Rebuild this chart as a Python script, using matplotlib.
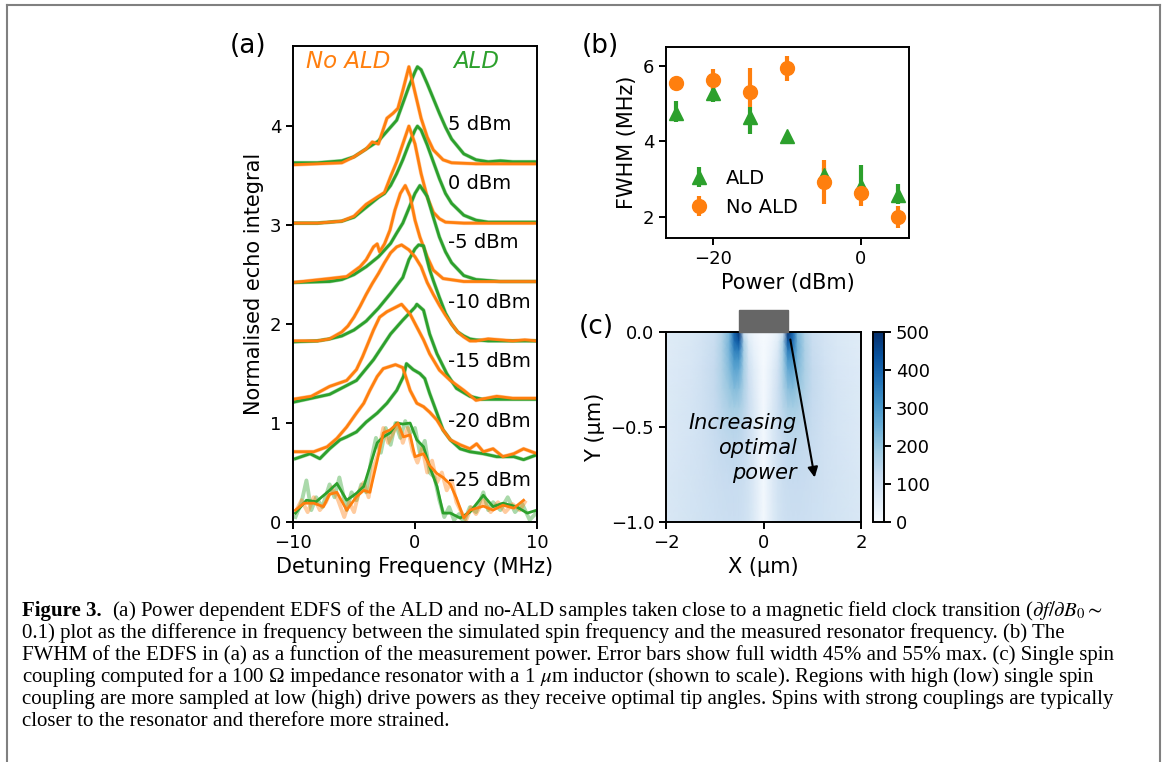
import matplotlib.pyplot as plt
import numpy as np
from matplotlib.lines import Line2D
from matplotlib.patches import Rectangle

plt.rcParams['mathtext.fontset'] = 'stix'
plt.rcParams['axes.linewidth'] = 1.4
plt.rcParams['xtick.major.width'] = 1.4
plt.rcParams['ytick.major.width'] = 1.4
plt.rcParams['xtick.major.size'] = 5
plt.rcParams['ytick.major.size'] = 5
plt.rcParams['xtick.labelsize'] = 13
plt.rcParams['ytick.labelsize'] = 13

orange = '#ff7f0e'
green = '#2ca02c'

# ---- (a) EDFS curves, normalised (peak = 1), one pair of lists per power ----
powers = [5, 0, -5, -10, -15, -20, -25]

x_ald_p5 = [-10, -8, -6, -5, -4, -3, -2, -1.5, -1, -0.5, 0, 0.2, 0.5, 1, 1.5, 2, 2.5, 3, 4, 5, 6, 7, 8, 9, 10]
y_ald_p5 = [0.03, 0.03, 0.05, 0.09, 0.17, 0.25, 0.39, 0.46, 0.63, 0.80, 0.95, 1.0, 0.97, 0.83, 0.68, 0.53, 0.39, 0.27, 0.12, 0.06, 0.04, 0.05, 0.04, 0.04, 0.04]
x_no_p5 = [-10, -8, -6, -5, -4, -3.5, -3, -2.3, -1.8, -1.4, -1, -0.5, 0, 0.5, 1, 1.5, 2.3, 3, 5, 7, 10]
y_no_p5 = [0.01, 0.02, 0.03, 0.09, 0.17, 0.24, 0.22, 0.48, 0.53, 0.58, 0.76, 1.0, 0.74, 0.48, 0.29, 0.16, 0.06, 0.03, 0.02, 0.02, 0.02]

x_ald_0 = [-10, -8, -6, -5, -4, -3, -2.5, -2, -1.5, -1, -0.5, 0, 0.2, 0.5, 1, 1.5, 2, 2.5, 3, 4, 5, 6, 8, 10]
y_ald_0 = [0.02, 0.02, 0.04, 0.08, 0.18, 0.28, 0.32, 0.40, 0.52, 0.66, 0.82, 0.96, 1.0, 0.96, 0.81, 0.64, 0.47, 0.32, 0.22, 0.10, 0.05, 0.03, 0.03, 0.03]
x_no_0 = [-10, -8, -6, -5, -4, -3, -2.5, -2, -1.5, -1, -0.5, 0, 0.5, 1, 1.5, 2, 2.5, 4, 6, 8, 10]
y_no_0 = [0.02, 0.02, 0.04, 0.09, 0.21, 0.29, 0.33, 0.49, 0.64, 0.82, 1.0, 0.82, 0.52, 0.285, 0.13, 0.065, 0.03, 0.02, 0.02, 0.02, 0.02]

x_ald_m5 = [-10, -7, -6, -5, -4, -3, -2, -1.5, -1, -0.5, 0, 0.4, 1, 1.5, 2, 2.5, 3, 4, 5, 7, 10]
y_ald_m5 = [0.02, 0.03, 0.05, 0.10, 0.18, 0.28, 0.415, 0.52, 0.62, 0.77, 0.92, 1.0, 0.89, 0.68, 0.48, 0.33, 0.22, 0.09, 0.05, 0.03, 0.03]
x_no_m5 = [-10, -7, -5.6, -4.5, -4, -3.4, -3.1, -2.9, -2.5, -2.05, -1.65, -1.2, -0.8, -0.4, 0, 0.4, 1, 1.5, 2.3, 4, 6, 10]
y_no_m5 = [0.02, 0.06, 0.08, 0.18, 0.25, 0.38, 0.41, 0.33, 0.41, 0.55, 0.75, 0.92, 1.0, 0.89, 0.65, 0.48, 0.28, 0.145, 0.06, 0.03, 0.03, 0.03]

x_ald_m10 = [-10, -8, -7, -6, -5, -4, -3, -2, -1, -0.5, 0, 0.3, 0.7, 1.2, 1.5, 2, 2.5, 3, 3.5, 4, 4.5, 5, 6, 8, 10]
y_ald_m10 = [0.02, 0.03, 0.05, 0.08, 0.14, 0.23, 0.36, 0.51, 0.67, 0.85, 0.96, 1.0, 0.99, 0.75, 0.64, 0.47, 0.31, 0.2, 0.12, 0.08, 0.05, 0.04, 0.03, 0.03, 0.03]
x_no_m10 = [-10, -8, -7, -6, -5.5, -5, -4.5, -4, -3.5, -3, -2.5, -2, -1.5, -1.1, -0.5, 0, 0.5, 1, 1.5, 2, 2.5, 3, 3.5, 4, 4.5, 5, 6, 7, 8, 9, 10]
y_no_m10 = [0.03, 0.03, 0.05, 0.12, 0.18, 0.27, 0.38, 0.5, 0.61, 0.71, 0.82, 0.92, 0.98, 1.0, 0.95, 0.88, 0.78, 0.62, 0.5, 0.39, 0.29, 0.2, 0.12, 0.07, 0.03, 0.03, 0.05, 0.04, 0.03, 0.04, 0.03]

x_ald_m15 = [-10, -7, -4.8, -3.4, -2, -1, 0, 0.15, 0.7, 1.2, 1.8, 2.6, 3.4, 4.5, 5.5, 7, 10]
y_ald_m15 = [0.01, 0.09, 0.23, 0.44, 0.70, 0.84, 0.97, 1.0, 0.94, 0.70, 0.50, 0.30, 0.15, 0.07, 0.04, 0.04, 0.04]
x_no_m15 = [-10, -8.5, -7, -5.6, -4.8, -4.3, -3.4, -2.9, -2.3, -1.5, -1.1, -0.4, 0.15, 0.7, 1.2, 2, 2.9, 4, 5, 6.7, 8, 10]
y_no_m15 = [0.04, 0.07, 0.17, 0.23, 0.34, 0.47, 0.74, 0.87, 0.925, 0.975, 1.0, 0.9, 0.77, 0.64, 0.5, 0.335, 0.23, 0.13, 0.03, 0.07, 0.05, 0.05]

x_ald_m20 = [-9.8, -8.6, -7.8, -7.0, -6.15, -5.6, -4.8, -4.0, -3.1, -2.3, -1.5, -0.95, -0.7, -0.15, 0.4, 0.8, 1.2, 1.8, 2.3, 2.9, 3.7, 4.5, 5.6, 6.7, 8.1, 8.9, 10]
y_ald_m20 = [0.04, 0.09, 0.04, 0.14, 0.23, 0.26, 0.31, 0.41, 0.50, 0.60, 0.73, 0.87, 1.0, 0.94, 0.90, 0.85, 0.70, 0.50, 0.33, 0.23, 0.14, 0.11, 0.09, 0.06, 0.06, 0.03, 0.08]
x_no_m20 = [-9.8, -8.3, -7.2, -6.4, -5.6, -4.8, -4.2, -3.7, -3.1, -2.6, -1.6, -1.0, -0.4, 0.15, 0.7, 1.2, 1.8, 2.3, 2.9, 3.7, 4.5, 5.05, 5.6, 6.4, 7.2, 8.1, 8.9, 10]
y_no_m20 = [0.11, 0.11, 0.16, 0.245, 0.36, 0.50, 0.60, 0.73, 0.87, 0.95, 0.99, 0.96, 0.73, 0.60, 0.565, 0.51, 0.43, 0.33, 0.23, 0.18, 0.14, 0.19, 0.11, 0.14, 0.06, 0.09, 0.14, 0.09]

x_ald_m25 = [-9.8, -8.9, -8.1, -7.0, -6.4, -5.6, -4.8, -4.2, -3.7, -3.1, -2.6, -2.05, -1.5, -1.0, -0.4, 0.15, 0.7, 1.2, 1.8, 2.3, 2.9, 3.7, 4.5, 5.6, 6.4, 7.2, 8.3, 9.2, 10]
y_ald_m25 = [0.09, 0.22, 0.205, 0.32, 0.39, 0.22, 0.29, 0.36, 0.56, 0.80, 0.86, 0.90, 1.0, 0.99, 1.0, 0.83, 0.76, 0.56, 0.36, 0.09, 0.09, 0.04, 0.10, 0.27, 0.155, 0.19, 0.155, 0.09, 0.12]
x_no_m25 = [-9.8, -9.1, -8.3, -7.5, -7.0, -6.4, -5.6, -4.8, -4.2, -3.7, -3.1, -2.6, -2.05, -1.4, -0.95, -0.4, 0, 0.7, 1.2, 1.8, 2.3, 2.9, 3.4, 4.0, 4.5, 5.6, 6.4, 7.2, 8.1, 8.9]
y_no_m25 = [0.12, 0.19, 0.19, 0.155, 0.28, 0.30, 0.12, 0.255, 0.32, 0.30, 0.62, 0.90, 0.93, 1.0, 0.86, 0.88, 0.66, 0.69, 0.57, 0.49, 0.45, 0.38, 0.24, 0.04, 0.12, 0.16, 0.12, 0.17, 0.14, 0.22]

# raw (unsmoothed) traces at -25 dBm, which are visibly noisier
x_ald_m25_raw = [-9.8, -9.3, -8.9, -8.5, -8.1, -7.6, -7.0, -6.6, -6.2, -5.6, -5.2, -4.8, -4.4, -4.0, -3.6, -3.2, -2.8, -2.4, -2.0, -1.6, -1.2, -0.8, -0.4, 0, 0.4, 0.8, 1.2, 1.6, 2.0, 2.4, 2.8, 3.2, 3.6, 4.0, 4.5, 5.0, 5.6, 6.0, 6.4, 7.0, 7.6, 8.2, 8.8, 9.4, 10]
y_ald_m25_raw = [0.05, 0.2, 0.42, 0.12, 0.25, 0.15, 0.38, 0.25, 0.45, 0.12, 0.3, 0.22, 0.38, 0.3, 0.62, 0.85, 0.7, 0.95, 0.78, 1.0, 0.85, 1.02, 0.9, 0.95, 0.7, 0.82, 0.5, 0.45, 0.22, 0.05, 0.15, 0.02, 0.08, 0.0, 0.15, 0.1, 0.3, 0.12, 0.2, 0.12, 0.25, 0.1, 0.18, 0.02, 0.1]
x_no_m25_raw = [-9.8, -9.3, -8.8, -8.3, -7.8, -7.3, -6.8, -6.3, -5.8, -5.4, -5.0, -4.6, -4.2, -3.8, -3.4, -3.0, -2.6, -2.2, -1.8, -1.4, -1.0, -0.6, -0.2, 0.2, 0.6, 1.0, 1.4, 1.8, 2.2, 2.6, 3.0, 3.4, 3.8, 4.2, 4.6, 5.0, 5.6, 6.2, 6.8, 7.4, 8.0, 8.6, 9.0]
y_no_m25_raw = [0.1, 0.22, 0.1, 0.25, 0.12, 0.2, 0.35, 0.22, 0.05, 0.2, 0.1, 0.3, 0.4, 0.25, 0.55, 0.7, 0.95, 0.8, 0.9, 1.0, 0.8, 0.95, 0.72, 0.6, 0.75, 0.5, 0.62, 0.4, 0.5, 0.32, 0.42, 0.2, 0.1, 0.02, 0.15, 0.08, 0.22, 0.1, 0.2, 0.1, 0.18, 0.12, 0.2]

ald_curves = [(x_ald_p5, y_ald_p5), (x_ald_0, y_ald_0), (x_ald_m5, y_ald_m5), (x_ald_m10, y_ald_m10),
              (x_ald_m15, y_ald_m15), (x_ald_m20, y_ald_m20), (x_ald_m25, y_ald_m25)]
no_curves = [(x_no_p5, y_no_p5), (x_no_0, y_no_0), (x_no_m5, y_no_m5), (x_no_m10, y_no_m10),
             (x_no_m15, y_no_m15), (x_no_m20, y_no_m20), (x_no_m25, y_no_m25)]
ald_raw = ald_curves[:6] + [(x_ald_m25_raw, y_ald_m25_raw)]
no_raw = no_curves[:6] + [(x_no_m25_raw, y_no_m25_raw)]
step = 0.6

# ---- (b) FWHM vs power ----
power_b = [-25, -20, -15, -10, -5, 0, 5]
fwhm_ald = [4.75, 5.28, 4.64, 4.13, 3.11, 2.83, 2.58]
ald_lo = [4.52, 5.05, 4.20, 4.13, 2.95, 2.50, 2.34]
ald_hi = [5.08, 5.45, 4.90, 4.13, 3.30, 3.38, 2.87]
fwhm_no = [5.54, 5.62, 5.32, 5.95, 2.92, 2.63, 1.99]
no_lo = [5.45, 5.40, 4.90, 5.61, 2.34, 2.30, 1.70]
no_hi = [5.62, 5.91, 5.94, 6.26, 3.51, 2.85, 2.30]

# ---- (c) single spin coupling map (half width, mirrored about x = 0) ----
xc_half = [0, 0.1, 0.2, 0.3, 0.4, 0.5, 0.6, 0.7, 0.85, 1.0, 1.25, 1.5, 2.0]
yc = [0, -0.05, -0.1, -0.15, -0.2, -0.3, -0.4, -0.5, -0.6, -0.8, -1.0]
gc_half = [
    [5, 10, 20, 40, 90, 490, 400, 230, 155, 115, 90, 75, 60],
    [5, 15, 30, 60, 160, 430, 380, 240, 160, 118, 92, 76, 60],
    [5, 20, 40, 80, 170, 350, 340, 240, 165, 122, 95, 80, 62],
    [5, 25, 50, 90, 170, 300, 300, 230, 165, 125, 97, 80, 63],
    [8, 30, 60, 100, 170, 260, 270, 220, 165, 128, 100, 82, 65],
    [10, 35, 70, 110, 160, 210, 220, 195, 160, 128, 102, 85, 67],
    [10, 40, 75, 110, 145, 170, 175, 168, 148, 125, 102, 86, 68],
    [12, 40, 75, 105, 132, 145, 150, 148, 138, 122, 101, 87, 70],
    [12, 40, 75, 100, 120, 132, 135, 134, 128, 118, 100, 88, 72],
    [12, 40, 70, 95, 110, 118, 120, 120, 117, 110, 100, 90, 75],
    [12, 40, 68, 90, 103, 110, 112, 112, 110, 105, 98, 90, 77],
]

fig = plt.figure(figsize=(11.65, 7.62), dpi=100)
W, H = 1165, 762


def box(l, t, r, b):
    return [l / W, 1 - b / H, (r - l) / W, (b - t) / H]


# ---------------- (a) ----------------
ax = fig.add_axes(box(293, 46, 537, 522))
for i, p in enumerate(powers):
    off = step * (len(powers) - 1 - i)
    xa, ya = ald_curves[i]
    xn, yn = no_curves[i]
    xar, yar = ald_raw[i]
    xnr, ynr = no_raw[i]
    ax.plot(xar, np.array(yar) + off, color=green, lw=2.8, alpha=0.4)
    ax.plot(xnr, np.array(ynr) + off, color=orange, lw=2.8, alpha=0.4)
    ax.plot(xa, np.array(ya) + off, color=green, lw=2)
    ax.plot(xn, np.array(yn) + off, color=orange, lw=2)
    ax.text(2.7, off + 0.42, f'{p} dBm', fontsize=14, va='center', ha='left')
ax.text(-8.9, 4.65, 'No ALD', color=orange, style='italic', fontsize=16.5, va='center')
ax.text(3.1, 4.65, 'ALD', color=green, style='italic', fontsize=16.5, va='center')
ax.set_xlim(-10, 10)
ax.set_ylim(0, 4.81)
ax.set_xticks([-10, 0, 10])
ax.set_yticks([0, 1, 2, 3, 4])
ax.set_xlabel('Detuning Frequency (MHz)', fontsize=15)
ax.set_ylabel('Normalised echo integral', fontsize=15)

# ---------------- (b) ----------------
bx = fig.add_axes(box(666, 47, 909, 238))
fa = np.array(fwhm_ald)
fn = np.array(fwhm_no)
bx.errorbar(power_b, fa, yerr=[fa - np.array(ald_lo), np.array(ald_hi) - fa], fmt='^',
            color=green, ms=10, elinewidth=3, capsize=0, label='ALD')
bx.errorbar(power_b, fn, yerr=[fn - np.array(no_lo), np.array(no_hi) - fn], fmt='o',
            color=orange, ms=10, elinewidth=3, capsize=0, label='No ALD')
bx.set_xlim(-26.35, 6.5)
bx.set_ylim(1.44, 6.5)
bx.set_xticks([-20, 0])
bx.set_yticks([2, 4, 6])
bx.set_xlabel('Power (dBm)', fontsize=15)
bx.set_ylabel('FWHM (MHz)', fontsize=15)
bx.legend(loc='lower left', frameon=False, fontsize=14, handletextpad=0.4,
          borderaxespad=0.3, bbox_to_anchor=(0.0, 0.04))

# ---------------- (c) ----------------
cx = fig.add_axes(box(666, 332, 861, 522))
xc = np.concatenate([-np.array(xc_half[:0:-1]), np.array(xc_half)])
g_half = np.array(gc_half, dtype=float)
gc = np.hstack([g_half[:, :0:-1], g_half])
mesh = cx.pcolormesh(xc, np.array(yc), gc, cmap='Blues', vmin=0, vmax=500, shading='gouraud')
cx.set_xlim(-2, 2)
cx.set_ylim(-1, 0)
cx.set_xticks([-2, 0, 2])
cx.set_yticks([0, -0.5, -1.0])
cx.set_yticklabels(['0.0', '\u22120.5', '\u22121.0'])
cx.set_xlabel('X (µm)', fontsize=15)
cx.set_ylabel('Y (µm)', fontsize=15)
cx.add_patch(Rectangle((-0.5, 0), 1.0, 0.115, color='#666666', clip_on=False, zorder=5))
cx.annotate('', xy=(1.06, -0.78), xytext=(0.54, -0.025),
            arrowprops=dict(arrowstyle='-|>', color='k', lw=1.5, mutation_scale=15))
cx.text(0.69, -0.61, 'Increasing\noptimal\npower', style='italic', fontsize=15,
        ha='right', va='center', multialignment='right', linespacing=1.3)

cax = fig.add_axes(box(873, 332, 884, 522))
cb = fig.colorbar(mesh, cax=cax, ticks=[0, 100, 200, 300, 400, 500])
cb.outline.set_linewidth(1.4)
cax.tick_params(labelsize=13)

# panel labels
fig.text(248 / W, 1 - 46 / H, '(a)', fontsize=19, ha='center', va='center')
fig.text(600 / W, 1 - 46 / H, '(b)', fontsize=19, ha='center', va='center')
fig.text(596 / W, 1 - 327 / H, '(c)', fontsize=19, ha='center', va='center')

# caption
cap_lines = [
    '(a) Power dependent EDFS of the ALD and no-ALD samples taken close to a magnetic field clock transition ($\\partial f/\\partial B_0 \\sim$',
    '0.1) plot as the difference in frequency between the simulated spin frequency and the measured resonator frequency. (b) The',
    'FWHM of the EDFS in (a) as a function of the measurement power. Error bars show full width 45% and 55% max. (c) Single spin',
    'coupling computed for a 100 \u03a9 impedance resonator with a 1 $\\mu$m inductor (shown to scale). Regions with high (low) single spin',
    'coupling are more sampled at low (high) drive powers as they receive optimal tip angles. Spins with strong couplings are typically',
    'closer to the resonator and therefore more strained.',
]
cap_font = dict(family='Liberation Serif', fontsize=15, va='center', ha='left')
fig.text(22 / W, 1 - 611 / H, 'Figure 3.', fontweight='bold', **cap_font)
for k, line in enumerate(cap_lines):
    x0 = 112 if k == 0 else 22
    fig.text(x0 / W, 1 - (611 + 22 * k) / H, line, **cap_font)

# frame lines
fc = '#808080'
fig.add_artist(Line2D([7 / W, 1160 / W], [1 - 5 / H, 1 - 5 / H], color=fc, lw=1.5))
fig.add_artist(Line2D([7 / W, 7 / W], [1 - 5 / H, 0], color=fc, lw=1.5))
fig.add_artist(Line2D([1160 / W, 1160 / W], [1 - 5 / H, 0], color=fc, lw=1.5))

fig.savefig('out.png', dpi=100)
